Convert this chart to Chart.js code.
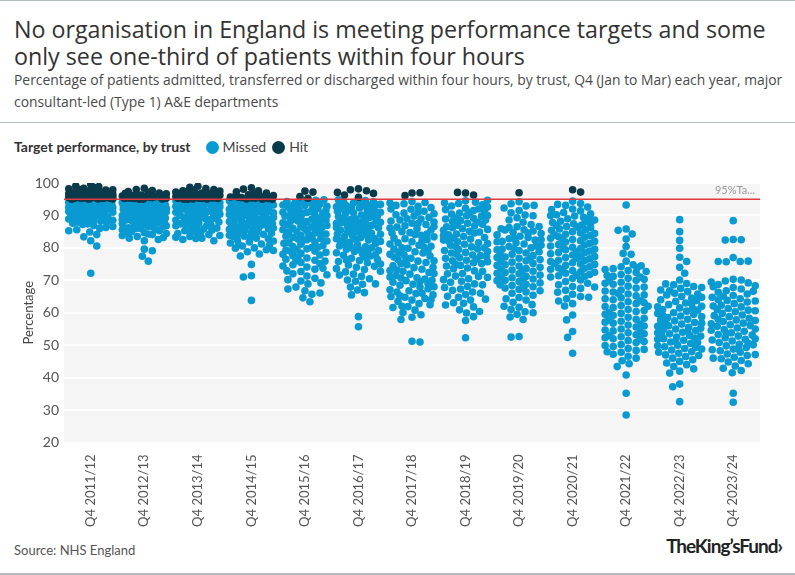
<!DOCTYPE html>
<html>
<head>
<meta charset="utf-8">
<script src="https://cdn.jsdelivr.net/npm/chart.js@4.4.1/dist/chart.umd.min.js"></script>
<style>
  html, body { margin: 0; padding: 0; background: #fff; }
  body { width: 795px; height: 575px; position: relative; overflow: hidden; font-family: Lato, "Noto Sans", sans-serif; color: #333; }
  .rule { position: absolute; left: 0; width: 795px; height: 1px; background: #b4bcc2; }
  .title { position: absolute; left: 14px; top: 13px; white-space: nowrap; font-family: "Open Sans", sans-serif; font-size: 21px; line-height: 27px; color: #333; }
  .subtitle { position: absolute; left: 14px; top: 65px; white-space: nowrap; font-family: "Open Sans", sans-serif; font-size: 12.5px; line-height: 22px; color: #4a4a4a; }
  .legend { position: absolute; left: 14px; top: 137px; height: 20px; font-size: 14px; line-height: 20px; color: #333; display: flex; align-items: center; }
  .legend b { margin-right: 15px; }
  .legend .dot { width: 13px; height: 13px; border-radius: 50%; display: inline-block; margin-right: 4px; }
  .legend .item { display: flex; align-items: center; margin-right: 6px; color: #444; }
  #wrap { position: absolute; left: 0; top: 165px; width: 795px; height: 365px; }
  .source { position: absolute; left: 14px; top: 541px; font-size: 13px; line-height: 18px; color: #555; }
  .logo { position: absolute; right: 13px; top: 535px; font-size: 19px; line-height: 22px; font-weight: 700; color: #222; letter-spacing: -1px; word-spacing: -4px; }
</style>
</head>
<body>
<div class="rule" style="top:0"></div>
<div class="title" id="title"><span>No organisation in England is meeting performance targets and some</span><br><span>only see one-third of patients within four hours</span></div>
<div class="subtitle" id="subtitle"><span>Percentage of patients admitted, transferred or discharged within four hours, by trust, Q4 (Jan to Mar) each year, major</span><br><span>consultant-led (Type 1) A&amp;E departments</span></div>
<div class="rule" style="top:122px"></div>
<div class="legend">
  <b>Target performance, by trust</b>
  <span class="item"><span class="dot" style="background:#0a9ad2"></span>Missed</span>
  <span class="item"><span class="dot" style="background:#0b3a4a"></span>Hit</span>
</div>
<div id="wrap"><canvas id="swarm"></canvas></div>
<div class="source">Source: NHS England</div>
<div class="logo">The King’s Fund›</div>
<div class="rule" style="top:573px; height:2px"></div>
<script>
const quarters = ['Q4 2011/12', 'Q4 2012/13', 'Q4 2013/14', 'Q4 2014/15', 'Q4 2015/16', 'Q4 2016/17',
  'Q4 2017/18', 'Q4 2018/19', 'Q4 2019/20', 'Q4 2020/21', 'Q4 2021/22', 'Q4 2022/23', 'Q4 2023/24'];
const yTicks = [20, 30, 40, 50, 60, 70, 80, 90, 100];
const target = 95;

// % seen within four hours, one value per trust
const q4_2011_12 = [99.6, 98.9, 98.4, 99.1, 97.8, 98.2, 97.5, 97.9, 96.8, 97.3, 98.6, 96.5, 97.1, 96.2, 96.9, 95.8,
  96.4, 97.6, 95.5, 96.1, 95.3, 96.7, 95.9, 95.2, 96.3, 95.6, 95.1, 95.4, 96.0, 95.7, 95.2, 95.0, 96.6, 95.5, 95.3,
  97.2, 95.8, 95.1, 96.2, 95.0, 95.4, 97.0, 95.9, 96.5, 95.6, 98.0,
  94.8, 94.3, 93.9, 94.6, 93.2, 92.7, 94.1, 93.6, 92.2, 91.8, 94.9, 93.4, 92.9, 91.3, 90.6, 94.5, 92.5, 93.8, 91.0,
  89.9, 94.2, 92.0, 90.3, 93.1, 89.4, 91.6, 94.7, 88.8, 90.9, 92.4, 93.5, 88.2, 89.6, 91.4, 94.0, 87.6, 90.1, 92.8,
  86.9, 93.7, 88.5, 91.9, 94.4, 87.2, 89.1, 90.7, 86.3, 92.1, 93.3, 85.6, 88.0, 94.9, 91.2, 89.7, 84.9, 92.6, 87.9,
  93.0, 86.6, 90.4, 94.6, 88.9, 84.1, 91.7, 93.9, 83.4, 87.4, 90.0, 92.3, 82.2, 85.3, 94.3, 89.3, 80.6, 86.0, 93.5,
  91.1, 72.2, 88.6, 92.9];
const q4_2012_13 = [98.4, 97.7, 98.0, 96.9, 97.4, 96.3, 95.6, 96.7, 95.2, 96.0, 95.8, 95.4, 96.5, 95.1, 95.9, 97.1,
  95.3, 95.0, 96.2, 95.7, 95.5, 96.1, 95.2, 95.0, 95.6, 96.8, 95.3, 95.9,
  94.8, 94.2, 93.6, 94.5, 92.9, 93.3, 92.1, 94.0, 91.5, 92.6, 93.8, 90.8, 91.9, 94.7, 90.2, 93.1, 89.5, 92.3, 91.1,
  88.9, 94.4, 90.5, 89.8, 92.8, 88.3, 91.7, 93.5, 87.7, 90.0, 94.9, 89.2, 87.1, 92.0, 88.6, 91.3, 86.5, 93.9, 90.7,
  88.0, 85.9, 92.5, 89.6, 86.8, 94.1, 91.0, 85.3, 88.4, 93.0, 87.4, 90.3, 84.7, 92.2, 89.0, 86.2, 94.6, 84.1, 91.6,
  87.9, 83.5, 90.9, 85.6, 93.4, 88.8, 86.0, 83.0, 92.7, 89.9, 84.4, 87.2, 91.4, 82.6, 85.0, 90.1, 93.7, 88.1, 82.2,
  86.7, 89.3, 84.9, 91.8, 83.8, 87.6, 79.6, 79.1, 77.4, 75.9, 94.3, 92.4, 90.6, 88.7, 86.4, 84.3, 85.7, 83.2];
const q4_2013_14 = [99.0, 98.3, 98.7, 97.6, 98.0, 97.2, 96.8, 97.5, 96.4, 96.9, 95.9, 96.6, 95.5, 96.2, 95.3, 97.0,
  95.8, 95.1, 96.0, 95.6, 95.4, 96.3, 95.0, 95.7, 95.2, 96.5, 95.9, 95.1, 97.8, 95.4, 96.1, 95.0, 95.6, 96.7, 95.3,
  95.8, 97.3, 95.2,
  94.9, 94.3, 93.7, 94.6, 93.1, 92.5, 94.0, 93.4, 91.9, 92.8, 94.8, 91.3, 93.9, 92.2, 90.7, 94.4, 91.6, 93.2, 90.1,
  92.0, 94.1, 89.5, 91.0, 93.6, 88.9, 90.4, 92.6, 94.7, 88.3, 91.5, 89.8, 93.0, 87.7, 90.9, 94.2, 89.2, 92.3, 87.1,
  88.6, 91.2, 86.5, 93.8, 90.0, 85.9, 88.0, 92.7, 85.3, 89.4, 87.4, 84.7, 91.7, 84.1, 86.8, 90.5, 83.5, 88.7, 86.1,
  83.0, 92.1, 85.5, 82.6, 89.0, 84.4, 82.2, 87.8, 86.4, 83.8, 94.5, 93.3, 91.4, 90.2, 88.5, 87.0, 85.0, 82.9, 84.9,
  83.3, 86.9];
const q4_2014_15 = [98.5, 97.6, 98.1, 96.9, 97.3, 96.4, 95.7, 96.1, 95.3, 96.7, 95.5, 95.0, 95.9, 95.2, 96.2, 95.4,
  95.1, 95.8, 95.0, 95.6,
  94.8, 94.1, 93.5, 94.5, 92.8, 93.9, 92.2, 91.6, 94.7, 93.2, 90.9, 92.5, 91.3, 94.3, 90.3, 89.7, 93.7, 91.9, 89.0,
  90.6, 92.9, 88.4, 94.0, 91.1, 87.8, 89.4, 92.0, 87.2, 93.3, 90.0, 86.6, 88.7, 91.5, 94.6, 86.0, 89.9, 85.4, 92.6,
  88.1, 84.8, 90.8, 87.5, 93.8, 84.2, 86.9, 89.2, 83.6, 91.8, 85.7, 88.9, 83.0, 92.3, 86.3, 82.4, 90.2, 84.5, 87.9,
  81.8, 94.2, 85.1, 89.5, 81.2, 83.9, 91.0, 86.7, 80.6, 88.2, 82.8, 93.0, 80.0, 85.9, 79.4, 87.0, 83.3, 90.5, 78.8,
  84.0, 81.5, 88.6, 78.1, 82.1, 86.1, 79.9, 77.5, 84.7, 80.8, 74.9, 71.4, 71.0, 63.8, 92.7, 89.6, 87.3, 85.2, 83.5,
  81.0, 79.2, 93.6];
const q4_2015_16 = [97.5, 97.2, 95.8, 95.3,
  94.7, 93.9, 94.3, 93.1, 92.4, 94.8, 91.7, 93.5, 90.9, 92.8, 90.2, 94.0, 89.5, 91.4, 88.8, 93.2, 90.6, 88.1, 92.1,
  87.4, 89.8, 91.0, 86.7, 94.5, 88.5, 86.0, 92.6, 89.2, 85.3, 90.4, 87.7, 84.6, 93.7, 88.9, 83.9, 86.3, 91.6, 83.2,
  87.1, 85.6, 82.5, 89.9, 84.3, 81.8, 92.9, 86.9, 81.1, 88.3, 83.6, 80.4, 90.7, 85.0, 79.7, 87.5, 82.9, 79.0, 84.9,
  81.4, 78.3, 91.3, 86.4, 77.6, 80.7, 83.0, 76.9, 89.0, 79.3, 82.1, 76.2, 85.8, 78.6, 75.5, 80.1, 84.0, 74.8, 77.8,
  81.6, 74.1, 87.9, 76.5, 73.4, 79.5, 82.7, 72.7, 75.9, 78.0, 72.0, 74.4, 77.2, 71.3, 73.7, 70.6, 75.1, 69.8, 72.9,
  68.9, 71.7, 67.9, 70.2, 66.8, 69.2, 65.7, 67.3, 64.6, 66.1, 63.4, 93.4, 91.9, 90.0, 88.0, 86.1, 84.4, 82.3, 80.2,
  78.9, 76.0];
const q4_2016_17 = [98.2, 97.6, 97.9, 96.8, 96.3, 97.1, 95.6,
  94.6, 93.8, 94.2, 93.0, 92.3, 94.8, 91.6, 93.4, 90.8, 92.7, 90.1, 94.0, 89.4, 91.2, 88.7, 93.1, 90.5, 88.0, 92.0,
  87.3, 89.7, 91.0, 86.6, 94.4, 88.4, 85.9, 92.5, 89.1, 85.2, 90.3, 87.6, 84.5, 93.6, 88.8, 83.8, 86.2, 91.5, 83.1,
  87.0, 85.5, 82.4, 89.9, 84.2, 81.7, 92.9, 86.8, 81.0, 88.2, 83.5, 80.3, 90.6, 84.9, 79.6, 87.4, 82.8, 78.9, 84.8,
  81.3, 78.2, 91.3, 86.3, 77.5, 80.6, 82.9, 76.8, 89.0, 79.2, 82.0, 76.1, 85.7, 78.5, 75.4, 80.0, 83.9, 74.7, 77.7,
  81.5, 74.0, 87.8, 76.4, 73.3, 79.4, 82.6, 72.6, 75.8, 77.9, 71.9, 74.3, 77.1, 71.2, 73.6, 70.5, 75.0, 69.7, 72.8,
  68.8, 71.6, 67.9, 70.1, 67.0, 68.9, 66.2, 65.5, 58.8, 55.7, 93.3, 91.8, 89.6, 87.9, 86.0, 84.3, 82.2, 80.1, 78.8,
  76.3];
const q4_2017_18 = [96.9, 97.0, 96.1,
  94.3, 93.6, 92.8, 94.0, 91.9, 93.1, 90.7, 92.4, 89.8, 91.3, 93.8, 88.9, 90.2, 92.0, 87.6, 89.4, 91.0, 86.8, 88.3,
  90.5, 85.9, 87.2, 89.0, 84.7, 86.4, 88.0, 83.9, 85.5, 87.5, 82.8, 84.6, 86.1, 81.9, 83.4, 85.0, 80.8, 82.5, 84.1,
  79.9, 81.6, 83.0, 78.8, 80.5, 82.1, 77.9, 79.6, 81.2, 76.8, 78.4, 80.0, 75.9, 77.5, 79.1, 74.8, 76.4, 78.0, 73.9,
  75.5, 77.2, 72.8, 74.5, 76.0, 71.9, 73.4, 75.1, 70.8, 72.4, 74.0, 69.9, 71.5, 73.0, 68.8, 70.4, 72.1, 67.9, 69.4,
  71.0, 66.8, 68.5, 70.0, 65.9, 67.4, 69.0, 64.8, 66.4, 68.0, 63.9, 65.5, 67.1, 62.8, 64.4, 66.0, 61.9, 63.5, 65.0,
  60.8, 62.5, 64.0, 60.1, 61.6, 59.4, 58.6, 57.9, 51.2, 51.0, 88.6, 84.3, 80.2, 76.6, 73.2, 69.6, 65.2, 62.0, 86.6,
  78.6, 70.7];
const q4_2018_19 = [96.9, 96.3, 97.1,
  94.5, 93.7, 94.1, 92.9, 93.3, 92.2, 91.5, 93.9, 90.7, 92.6, 89.9, 91.8, 94.7, 89.1, 90.4, 92.0, 88.4, 89.7, 91.2,
  87.6, 88.9, 90.9, 86.8, 88.1, 90.0, 85.9, 87.3, 89.3, 85.1, 86.5, 88.6, 84.3, 85.7, 87.9, 83.5, 84.9, 87.0, 82.7,
  84.0, 86.2, 81.9, 83.2, 85.4, 81.1, 82.4, 84.6, 80.3, 81.6, 83.8, 79.5, 80.8, 83.0, 78.6, 80.0, 82.1, 77.8, 79.2,
  81.3, 77.0, 78.4, 80.5, 76.2, 77.6, 79.7, 75.4, 76.8, 78.9, 74.6, 76.0, 78.1, 73.8, 75.2, 77.3, 72.9, 74.4, 76.5,
  72.1, 73.6, 75.7, 71.3, 72.8, 74.9, 70.5, 72.0, 70.9, 69.7, 71.2, 68.9, 70.2, 68.1, 69.4, 67.3, 68.6, 66.4, 67.8,
  65.6, 66.9, 64.8, 66.0, 63.9, 65.1, 62.9, 64.2, 61.8, 63.1, 60.9, 59.9, 58.8, 57.6, 52.3, 60.4, 62.4];
const q4_2019_20 = [97.0,
  94.2, 93.6, 92.9, 92.3, 91.5, 90.8, 90.1, 89.3, 88.6, 87.9, 93.1, 89.9, 87.2, 86.5, 86.3, 85.9, 86.6, 85.6, 85.2,
  84.8, 84.4, 85.5, 84.0, 83.6, 83.2, 82.8, 84.6, 82.4, 82.0, 81.6, 83.0, 81.2, 80.8, 80.4, 81.9, 80.0, 79.6, 79.2,
  80.6, 78.8, 78.4, 78.0, 79.4, 77.6, 77.2, 76.8, 78.2, 76.4, 76.0, 75.6, 77.0, 75.2, 74.8, 74.4, 75.9, 74.0, 73.6,
  73.2, 74.6, 72.8, 72.4, 72.0, 73.4, 71.6, 71.2, 70.8, 72.2, 70.4, 70.0, 69.6, 71.0, 69.2, 68.8, 68.4, 69.9, 68.0,
  67.6, 67.2, 68.6, 66.8, 66.4, 66.0, 65.4, 64.7, 63.9, 63.2, 62.5, 61.7, 61.0, 60.3, 59.5, 58.7, 57.9, 64.3, 62.0,
  60.0, 52.7, 52.5, 76.6, 73.0, 79.8, 82.6, 70.2, 67.8];
const q4_2020_21 = [97.9, 97.2,
  94.4, 93.7, 93.1, 92.6, 92.0, 91.4, 90.9, 93.4, 91.8, 90.5, 90.2, 89.8, 89.4, 89.0, 90.0, 88.6, 88.2, 87.8, 89.2,
  87.4, 87.0, 86.6, 88.0, 86.2, 85.8, 85.4, 86.9, 85.0, 84.6, 84.2, 85.6, 83.8, 83.4, 83.0, 84.4, 82.6, 82.2, 81.8,
  83.3, 81.4, 81.0, 80.6, 82.0, 80.2, 79.8, 79.4, 80.9, 79.0, 78.6, 78.2, 79.6, 77.8, 77.4, 77.0, 78.5, 76.6, 76.2,
  75.8, 77.3, 75.4, 75.0, 74.6, 76.1, 74.2, 73.8, 73.4, 74.9, 73.0, 72.6, 72.2, 73.7, 71.8, 71.4, 71.0, 72.5, 70.6,
  70.1, 69.6, 71.2, 69.1, 68.6, 68.1, 67.5, 66.9, 66.3, 65.7, 65.0, 64.3, 63.6, 62.8, 62.1, 67.9, 64.8, 59.3, 57.8,
  54.2, 52.4, 47.5, 87.6, 84.0, 80.4, 76.8, 73.2, 86.4, 82.8, 78.8, 75.2, 71.6];
const q4_2021_22 = [93.2, 85.8, 85.4, 84.3, 82.7, 80.4, 78.3, 78.0, 75.9, 74.8, 74.2, 73.6, 73.0, 72.4, 74.5, 73.3,
  71.8, 71.2, 72.7, 70.6, 70.0, 71.5, 69.4, 68.8, 70.3, 68.2, 67.6, 69.1, 67.0, 66.4, 67.9, 65.8, 65.2, 66.7, 64.6,
  64.0, 65.5, 63.4, 62.8, 64.3, 62.2, 61.6, 63.1, 61.0, 60.4, 61.9, 59.8, 59.2, 60.7, 58.6, 58.0, 59.5, 57.4, 56.8,
  58.3, 56.2, 55.6, 57.1, 55.0, 54.4, 55.9, 53.8, 53.2, 54.7, 52.6, 52.0, 53.5, 51.4, 50.8, 52.3, 50.2, 49.6, 51.1,
  49.0, 48.4, 49.9, 47.8, 47.2, 48.7, 46.6, 46.0, 45.2, 44.3, 43.4, 40.8, 35.2, 28.5, 71.0, 66.0, 62.0, 57.8, 53.0,
  48.0, 69.8, 63.7, 56.5, 51.7, 73.9, 60.1, 54.1];
const q4_2022_23 = [88.7, 85.0, 82.3, 79.9, 77.1, 75.8, 74.0, 72.2, 70.1, 69.0, 68.6, 68.1, 67.5, 68.9, 67.0, 66.5,
  67.8, 66.0, 65.5, 66.8, 65.0, 64.5, 65.8, 64.0, 63.5, 64.8, 63.0, 62.5, 63.8, 62.0, 61.5, 62.8, 61.0, 60.5, 61.8,
  60.0, 59.5, 60.8, 59.0, 58.5, 59.8, 58.0, 57.5, 58.8, 57.0, 56.5, 57.8, 56.0, 55.5, 56.8, 55.0, 54.5, 55.8, 54.0,
  53.5, 54.8, 53.0, 52.5, 53.8, 52.0, 51.5, 52.8, 51.0, 50.5, 51.8, 50.0, 49.5, 50.8, 49.0, 48.5, 49.8, 48.0, 47.5,
  48.8, 47.0, 46.5, 47.8, 46.0, 45.5, 46.8, 45.0, 44.5, 44.0, 43.4, 42.7, 42.0, 41.4, 38.0, 37.2, 32.6, 57.3, 55.2,
  53.2, 51.2, 59.2, 61.3, 49.3, 54.2, 56.2, 52.2];
const q4_2023_24 = [88.4, 82.6, 82.4, 82.5, 77.0, 75.8, 75.7, 75.9, 75.8, 70.3, 69.8, 70.1, 69.2, 68.7, 68.3, 69.5,
  67.8, 67.3, 66.8, 68.0, 66.3, 65.8, 65.3, 66.6, 64.8, 64.3, 63.8, 65.1, 63.3, 62.8, 62.3, 63.6, 61.8, 61.3, 60.8,
  62.1, 60.3, 59.8, 59.3, 60.6, 58.8, 58.3, 57.8, 59.1, 57.3, 56.8, 56.3, 57.6, 55.8, 55.3, 54.8, 56.1, 54.3, 53.8,
  53.3, 54.6, 52.8, 52.3, 51.8, 53.1, 51.3, 50.8, 50.3, 51.6, 49.8, 49.3, 48.8, 50.1, 48.3, 47.8, 47.3, 48.6, 46.8,
  46.3, 45.8, 47.1, 45.3, 44.8, 44.3, 43.6, 42.9, 42.2, 41.5, 35.2, 32.4, 58.0, 55.0, 52.0, 49.0, 61.0, 64.0, 46.0,
  56.6, 53.6, 50.6];

const byQuarter = [q4_2011_12, q4_2012_13, q4_2013_14, q4_2014_15, q4_2015_16, q4_2016_17, q4_2017_18,
  q4_2018_19, q4_2019_20, q4_2020_21, q4_2021_22, q4_2022_23, q4_2023_24];

const MISSED = '#0a9ad2';
const HIT = '#0b3a4a';
const DOT_R = 3.8;
const DOT_GAP = 7.4;   // min centre distance in px
const SPREAD = 22;     // max horizontal offset in px

// size the two heading blocks so their first line spans the same width as the original
function fitHeading(id, lineWidth, baseline, lineHeight) {
  const el = document.getElementById(id);
  const first = el.querySelector('span').textContent;
  const c = document.createElement('canvas').getContext('2d');
  c.font = '100px "Open Sans"';
  const size = 100 * lineWidth / c.measureText(first).width;
  el.style.fontSize = size + 'px';
  el.style.lineHeight = lineHeight + 'px';
  el.style.top = (baseline - ((lineHeight - 1.362 * size) / 2 + 1.069 * size)) + 'px';
}
fitHeading('title', 752, 39, 27);
fitHeading('subtitle', 769, 85, 22);

// start with every dot on its category centre, the swarm offsets come later
function points(hit) {
  const out = [];
  byQuarter.forEach((vals, i) => vals.forEach(v => {
    if ((v >= target) === hit) out.push({ x: i, y: v });
  }));
  return out;
}

const plotBackground = {
  id: 'plotBackground',
  beforeDraw(chart) {
    const { ctx, chartArea: a } = chart;
    ctx.save();
    ctx.fillStyle = '#f5f5f5';
    ctx.fillRect(a.left, a.top, a.right - a.left, a.bottom - a.top);
    ctx.restore();
  }
};

const targetLine = {
  id: 'targetLine',
  afterDatasetsDraw(chart) {
    const { ctx, chartArea: a, scales } = chart;
    const y = scales.y.getPixelForValue(target);
    ctx.save();
    ctx.strokeStyle = '#e03a3e';
    ctx.lineWidth = 1.5;
    ctx.beginPath();
    ctx.moveTo(a.left, y);
    ctx.lineTo(a.right, y);
    ctx.stroke();
    ctx.fillStyle = '#9a9a9a';
    ctx.font = '11px Lato, sans-serif';
    ctx.textAlign = 'right';
    ctx.textBaseline = 'bottom';
    ctx.fillText(target + '%Ta...', a.right - 5, y - 3);
    ctx.restore();
  }
};

const ctx = document.getElementById('swarm').getContext('2d');
const chart = new Chart(ctx, {
  type: 'scatter',
  data: {
    datasets: [
      { label: 'Hit', data: points(true), backgroundColor: HIT },
      { label: 'Missed', data: points(false), backgroundColor: MISSED }
    ]
  },
  options: {
    responsive: true,
    maintainAspectRatio: false,
    animation: false,
    layout: { padding: { top: 18, right: 35, left: 21, bottom: 0 } },
    elements: { point: { radius: DOT_R, hoverRadius: DOT_R, borderWidth: 0 } },
    plugins: { legend: { display: false }, tooltip: { enabled: false } },
    scales: {
      x: {
        type: 'linear',
        min: -0.5,
        max: quarters.length - 0.5,
        afterBuildTicks: s => { s.ticks = quarters.map((q, i) => ({ value: i })); },
        afterFit: s => { s.height = 87.5; },
        grid: { display: false },
        border: { display: false },
        ticks: {
          autoSkip: false,
          minRotation: 90,
          maxRotation: 90,
          padding: 4,
          color: '#555',
          font: { family: 'Lato', size: 13 },
          callback: v => quarters[v]
        }
      },
      y: {
        min: 20,
        max: 100,
        afterBuildTicks: s => { s.ticks = yTicks.map(v => ({ value: v })); },
        afterFit: s => { s.width = 43; },
        grid: { color: '#ffffff', lineWidth: 2, drawTicks: false },
        border: { display: false },
        ticks: { padding: 5, color: '#555', font: { family: 'Lato', size: 14 } },
        title: { display: true, text: 'Percentage', color: '#444', font: { family: 'Lato', size: 13 }, padding: 0 }
      }
    }
  },
  plugins: [plotBackground, targetLine]
});

// beeswarm: push each dot sideways until it no longer overlaps the ones already placed
function swarmOffsets(vals, yScale) {
  const placed = [];
  return vals.map((v, n) => {
    const py = yScale.getPixelForValue(v);
    const side = n % 2 ? 1 : -1;
    let best = 0, bestD = -1;
    for (let k = 0; k <= SPREAD * 2; k++) {
      const dx = side * (k % 2 ? 1 : -1) * Math.ceil(k / 2);
      let minD = Infinity;
      for (const p of placed) {
        const d = Math.hypot(p.x - dx, p.y - py);
        if (d < minD) minD = d;
      }
      if (minD >= DOT_GAP) { best = dx; bestD = minD; break; }
      if (minD > bestD) { bestD = minD; best = dx; }
    }
    placed.push({ x: best, y: py });
    return best;
  });
}

const xs = chart.scales.x;
const unit = xs.getPixelForValue(1) - xs.getPixelForValue(0);
const hitPts = [], missPts = [];
byQuarter.forEach((vals, i) => {
  const offs = swarmOffsets(vals, chart.scales.y);
  vals.forEach((v, n) => {
    const pt = { x: i + offs[n] / unit, y: v };
    (v >= target ? hitPts : missPts).push(pt);
  });
});
chart.data.datasets[0].data = hitPts;
chart.data.datasets[1].data = missPts;
chart.update('none');
</script>
</body>
</html>
